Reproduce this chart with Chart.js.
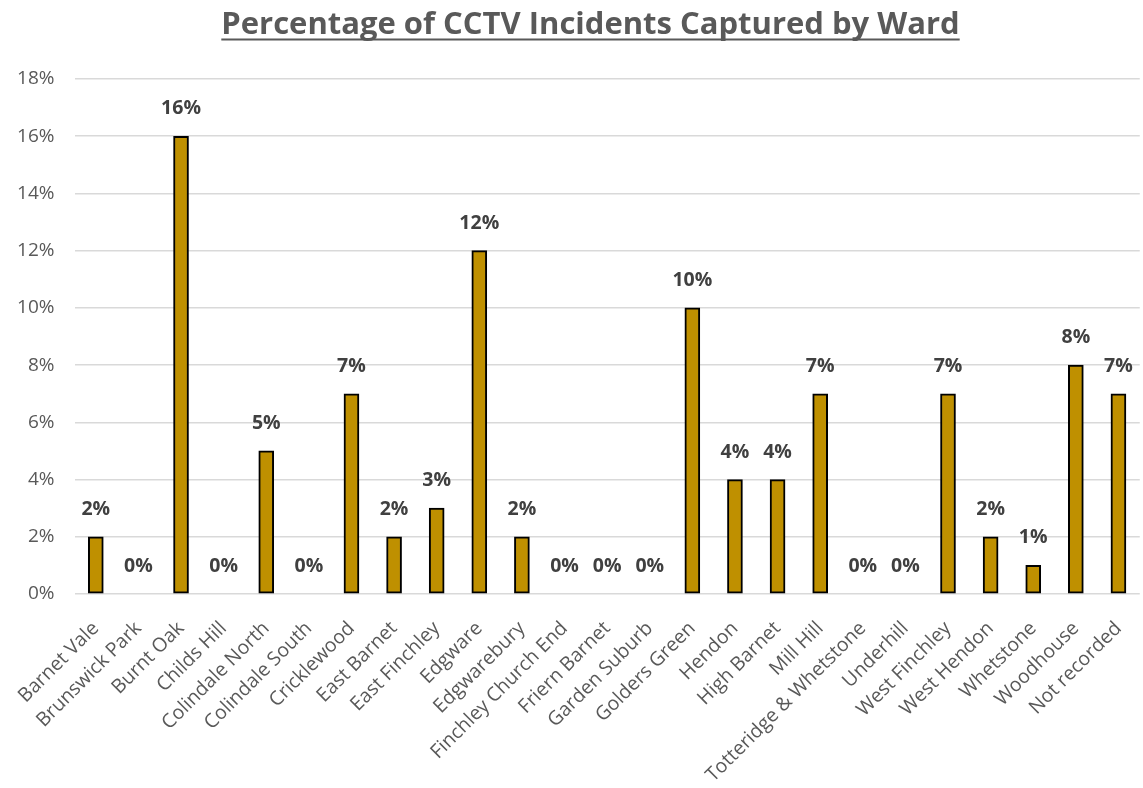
<!DOCTYPE html>
<html>
<head>
<meta charset="utf-8">
<title>Percentage of CCTV Incidents Captured by Ward</title>
<script src="https://cdn.jsdelivr.net/npm/chart.js@4/dist/chart.umd.min.js"></script>
<style>
  html, body { margin:0; padding:0; background:#fff; overflow:hidden; }
  #wrap { width:1150px; height:788px; }
</style>
</head>
<body>
<div id="wrap"><canvas id="chart" width="1150" height="788"></canvas></div>
<script>
// chart data
const chartTitle = 'Percentage of CCTV Incidents Captured by Ward';
const wards = ['Barnet Vale','Brunswick Park','Burnt Oak','Childs Hill','Colindale North','Colindale South',
  'Cricklewood','East Barnet','East Finchley','Edgware','Edgwarebury','Finchley Church End','Friern Barnet',
  'Garden Suburb','Golders Green','Hendon','High Barnet','Mill Hill','Totteridge & Whetstone','Underhill',
  'West Finchley','West Hendon','Whetstone','Woodhouse','Not recorded'];
const pctCaptured = [2,0,16,0,5,0,7,2,3,12,2,0,0,0,10,4,4,7,0,0,7,2,1,8,7];
const yTicks = [0,2,4,6,8,10,12,14,16,18];

const grey = '#595959';
const fam = '"Open Sans"';

// draws the underlined title and the value labels over the bars
const extras = {
  id:'extras',
  afterDatasetsDraw(chart){
    const ctx = chart.ctx;
    ctx.save();
    ctx.font = 'bold 19.5px ' + fam;
    ctx.fillStyle = '#404040';
    ctx.textAlign = 'center';
    ctx.textBaseline = 'alphabetic';
    chart.getDatasetMeta(0).data.forEach((bar,i)=>{
      ctx.fillText(pctCaptured[i]+'%', bar.x, bar.y - 22);
    });
    ctx.restore();
  },
  afterDraw(chart){
    const ctx = chart.ctx;
    ctx.save();
    ctx.font = 'bold 31px ' + fam;
    ctx.fillStyle = grey;
    ctx.textAlign = 'center';
    ctx.textBaseline = 'alphabetic';
    const cx = 590.5, base = 33.5;
    ctx.fillText(chartTitle, cx, base);
    const w = ctx.measureText(chartTitle).width;
    ctx.fillRect(cx - w/2, base + 5, w, 2);
    ctx.restore();
  }
};

new Chart(document.getElementById('chart'), {
  type:'bar',
  data:{
    labels: wards,
    datasets:[{
      data: pctCaptured,
      backgroundColor:'#BF9000',
      borderColor:'#000000',
      borderWidth:2,
      borderSkipped:false,
      barThickness:15
    }]
  },
  options:{
    responsive:false,
    animation:false,
    layout:{ padding:{ top:79, left:0, right:0.5, bottom:0 } },
    plugins:{ legend:{display:false}, tooltip:{enabled:false}, title:{display:false} },
    scales:{
      x:{
        grid:{ display:false },
        border:{ display:false },
        ticks:{ color:grey, font:{family:fam, size:19.5}, maxRotation:45, minRotation:45, autoSkip:false, padding:15 },
        afterFit(scale){ scale.height = 788 - 594; }
      },
      y:{
        min:0, max:18,
        afterBuildTicks(scale){ scale.ticks = yTicks.map(v=>({value:v})); },
        grid:{ color:'#d9d9d9', lineWidth:1.5, drawTicks:false },
        border:{ display:false },
        ticks:{ color:grey, font:{family:fam, size:19}, padding:20, callback:v=>v+'%' },
        afterFit(scale){ scale.width = 74.5; }
      }
    }
  },
  plugins:[extras]
});
</script>
</body>
</html>
